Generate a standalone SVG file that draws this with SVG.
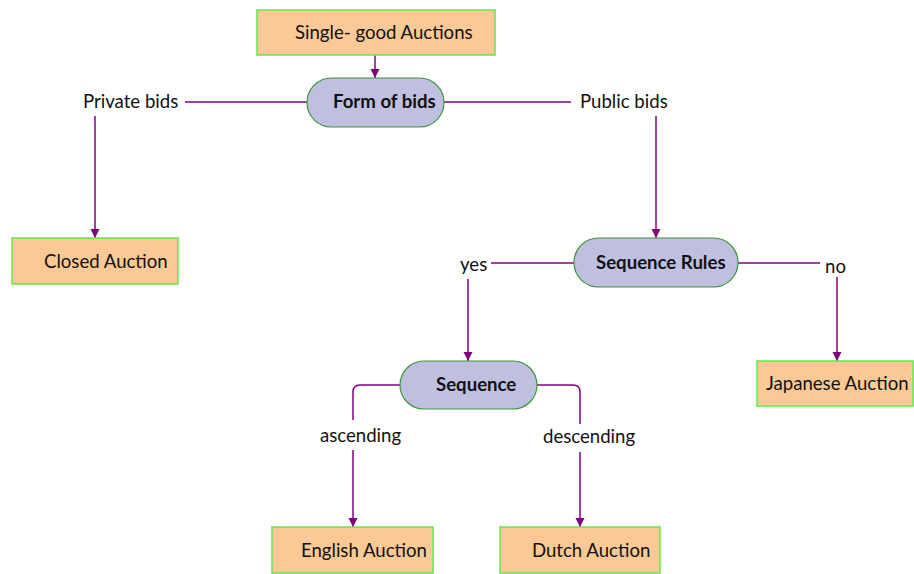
<svg xmlns="http://www.w3.org/2000/svg" width="914" height="574" viewBox="0 0 914 574">
  <defs>
    <marker id="arrow" markerWidth="10" markerHeight="10" refX="9" refY="5" orient="auto" markerUnits="userSpaceOnUse">
      <path d="M0,0.5 L9,5 L0,9.5 Z" fill="#800080"/>
    </marker>
    <style>
      .box { fill: #FBC995; stroke: #66E64D; stroke-width: 1.5; }
      .pill { fill: #BFBFDF; stroke: #3C963C; stroke-width: 1.2; }
      .wire { fill: none; stroke: #800080; stroke-width: 1.5; }
      .arrowed { marker-end: url(#arrow); }
      text { font-family: Lato, "Open Sans", "Liberation Sans", sans-serif; font-size: 18.6px; fill: #111; }
      .bold { font-weight: bold; }
    </style>
  </defs>
  <rect width="914" height="574" fill="#ffffff"/>

  <!-- connectors -->
  <g id="connectors">
    <path class="wire arrowed" d="M375,55 V78"/>
    <path class="wire" d="M307,102 H185"/>
    <path class="wire arrowed" d="M95,116 V238"/>
    <path class="wire" d="M444,102 H571"/>
    <path class="wire arrowed" d="M656,116 V238"/>
    <path class="wire" d="M574,263 H491"/>
    <path class="wire arrowed" d="M468,279 V361"/>
    <path class="wire" d="M738,263 H820"/>
    <path class="wire arrowed" d="M837,277 V361"/>
    <path class="wire" d="M400,385 H360 Q353,385 353,392 V420"/>
    <path class="wire arrowed" d="M353,450 V527"/>
    <path class="wire" d="M537,385 H573 Q580,385 580,392 V424"/>
    <path class="wire arrowed" d="M580,452 V527"/>
  </g>

  <!-- edge labels -->
  <g id="labels">
    <text x="83" y="108">Private bids</text>
    <text x="580" y="108">Public bids</text>
    <text x="460" y="271">yes</text>
    <text x="825" y="273">no</text>
    <text x="320" y="442">ascending</text>
    <text x="543" y="443">descending</text>
  </g>

  <g id="single-good">
    <rect class="box" x="257" y="10" width="238" height="45"/>
    <text x="295" y="39">Single- good Auctions</text>
  </g>

  <g id="form-of-bids">
    <rect class="pill" x="307" y="78" width="137" height="49" rx="24.5"/>
    <text class="bold" x="333" y="108">Form of bids</text>
  </g>

  <g id="closed-auction">
    <rect class="box" x="12" y="238" width="166" height="46"/>
    <text x="44" y="268">Closed Auction</text>
  </g>

  <g id="sequence-rules">
    <rect class="pill" x="574" y="238" width="164" height="49" rx="24.5"/>
    <text class="bold" x="596" y="269">Sequence Rules</text>
  </g>

  <g id="japanese-auction">
    <rect class="box" x="757" y="361" width="156" height="45"/>
    <text x="766" y="390">Japanese Auction</text>
  </g>

  <g id="sequence">
    <rect class="pill" x="400" y="361" width="137" height="48" rx="24"/>
    <text class="bold" x="436" y="391">Sequence</text>
  </g>

  <g id="english-auction">
    <rect class="box" x="272" y="527" width="161" height="46"/>
    <text x="301" y="557">English Auction</text>
  </g>

  <g id="dutch-auction">
    <rect class="box" x="500" y="527" width="160" height="46"/>
    <text x="532" y="557">Dutch Auction</text>
  </g>
</svg>
